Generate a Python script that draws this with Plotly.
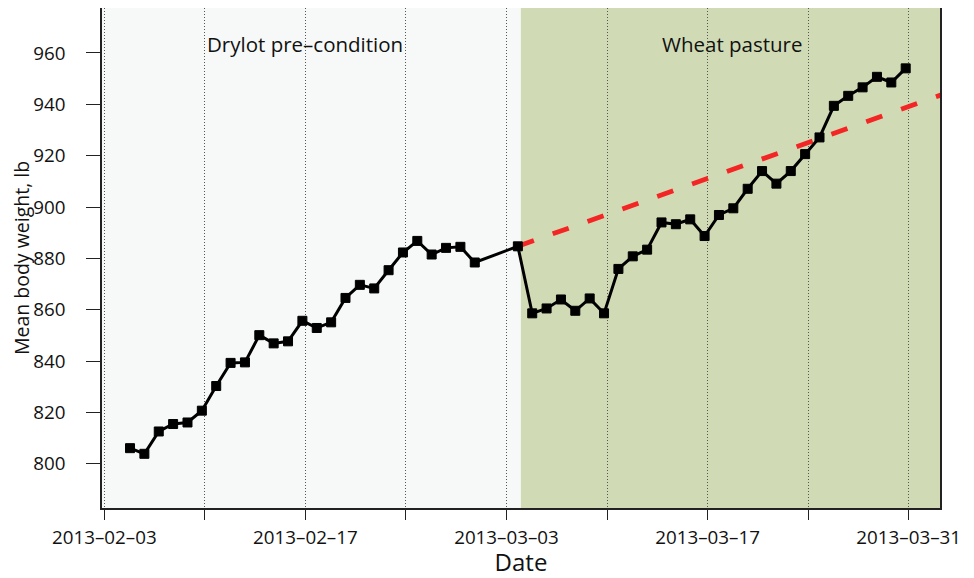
import plotly.graph_objects as go
import pandas as pd

# ---- data ----
dates = [
    "2013-02-05", "2013-02-06", "2013-02-07", "2013-02-08", "2013-02-09",
    "2013-02-10", "2013-02-11", "2013-02-12", "2013-02-13", "2013-02-14",
    "2013-02-15", "2013-02-16", "2013-02-17", "2013-02-18", "2013-02-19",
    "2013-02-20", "2013-02-21", "2013-02-22", "2013-02-23", "2013-02-24",
    "2013-02-25", "2013-02-26", "2013-02-27", "2013-02-28", "2013-03-01",
    "2013-03-04", "2013-03-05", "2013-03-06", "2013-03-07", "2013-03-08",
    "2013-03-09", "2013-03-10", "2013-03-11", "2013-03-12", "2013-03-13",
    "2013-03-14", "2013-03-15", "2013-03-16", "2013-03-17", "2013-03-18",
    "2013-03-19", "2013-03-20", "2013-03-21", "2013-03-22", "2013-03-23",
    "2013-03-24", "2013-03-25", "2013-03-26", "2013-03-27", "2013-03-28",
    "2013-03-29", "2013-03-30", "2013-03-31",
]
weights = [
    806.1, 803.9, 812.6, 815.5, 816.1,
    820.7, 830.3, 839.3, 839.5, 850.1,
    846.9, 847.7, 855.7, 852.9, 855.1,
    864.6, 869.7, 868.3, 875.4, 882.3,
    886.8, 881.5, 884.1, 884.5, 878.4,
    884.7, 858.6, 860.5, 864.0, 859.6,
    864.4, 858.6, 875.9, 880.8, 883.4,
    894.0, 893.3, 895.2, 888.7, 896.9,
    899.5, 907.1, 914.0, 909.1, 914.0,
    920.6, 927.1, 939.4, 943.3, 946.6,
    950.7, 948.5, 954.0,
]
tick_dates = ["2013-02-03", "2013-02-10", "2013-02-17", "2013-02-24", "2013-03-03",
              "2013-03-10", "2013-03-17", "2013-03-24", "2013-03-31"]
tick_labels = ["2013–02–03", "", "2013–02–17", "", "2013–03–03",
               "", "2013–03–17", "", "2013–03–31"]
y_ticks = [800, 820, 840, 860, 880, 900, 920, 940, 960]
phase_labels = ["Drylot pre–condition", "Wheat pasture"]
pasture_start = "2013-03-04"
proj_start_date = "2013-03-04"
proj_rate = 2.0          # lb per day (expected gain)
proj_end_date = "2013-04-10"

# weigh times recorded in UTC, shown on a local-time axis
tz_shift = pd.Timedelta(hours=5)
ts = pd.to_datetime(dates) - tz_shift
proj_start_val = weights[dates.index(proj_start_date)]
p0 = pd.Timestamp(proj_start_date) - tz_shift
p1 = pd.Timestamp(proj_end_date) - tz_shift
proj_days = (p1 - p0) / pd.Timedelta(days=1)
proj_x = [p0, p1]
proj_y = [proj_start_val, proj_start_val + proj_rate * proj_days]

FONT = "Open Sans"
TXT = "#111"

fig = go.Figure()
fig.add_trace(go.Scatter(
    x=proj_x, y=proj_y, mode="lines",
    line=dict(color="#F42525", width=4.8, dash="17px,20px"),
    showlegend=False, hoverinfo="skip",
))
fig.add_trace(go.Scatter(
    x=ts, y=weights, mode="lines+markers",
    line=dict(color="black", width=3),
    marker=dict(symbol="square", size=9, color="black",
                line=dict(color="black", width=1)),
    showlegend=False,
))

fig.add_shape(type="rect", xref="x", yref="y domain",
              x0=pasture_start, x1="2013-04-20", y0=0, y1=1,
              fillcolor="#D0DBB5", line_width=0, layer="below")

for lbl, xp in zip(phase_labels, [0.2417, 0.7518]):
    fig.add_annotation(text=lbl, xref="paper", yref="paper",
                       x=xp, y=0.928, showarrow=False,
                       xanchor="center", yanchor="middle",
                       font=dict(family=FONT, size=20.5, color=TXT))

# the page adds an 8px body margin, so the figure is sized to fit inside it
fig.update_layout(
    width=966, height=570,
    margin=dict(l=93.7, r=34, t=0, b=70),
    paper_bgcolor="white",
    plot_bgcolor="#F7F9F8",
    font=dict(family=FONT, color=TXT),
)
fig.update_xaxes(
    type="date", automargin=False,
    range=["2013-02-02 20:10", "2013-04-02 04:20"],
    tickmode="array", tickvals=tick_dates, ticktext=tick_labels,
    ticks="outside", ticklen=10, tickwidth=1.3, tickcolor="#222",
    tickfont=dict(family=FONT, size=18.8, color=TXT),
    ticklabelstandoff=2,
    showgrid=True, gridcolor="#555", griddash="1px,2px", gridwidth=1,
    showline=True, linecolor="#222", linewidth=1.5, mirror=True,
    zeroline=False,
    title=dict(text="Date", font=dict(family=FONT, size=24, color=TXT), standoff=15),
)
fig.update_yaxes(
    automargin=False,
    range=[782.8, 977.5],
    tickmode="array", tickvals=y_ticks,
    ticks="outside", ticklen=14, tickwidth=1.3, tickcolor="#222",
    tickfont=dict(family=FONT, size=18.8, color=TXT),
    ticklabelstandoff=17,
    showgrid=False,
    showline=True, linecolor="#222", linewidth=1.5, mirror=True,
    zeroline=False,
    title=dict(text="Mean body weight, lb", font=dict(family=FONT, size=19.5, color=TXT), standoff=13),
)

fig.write_html("out.html")
